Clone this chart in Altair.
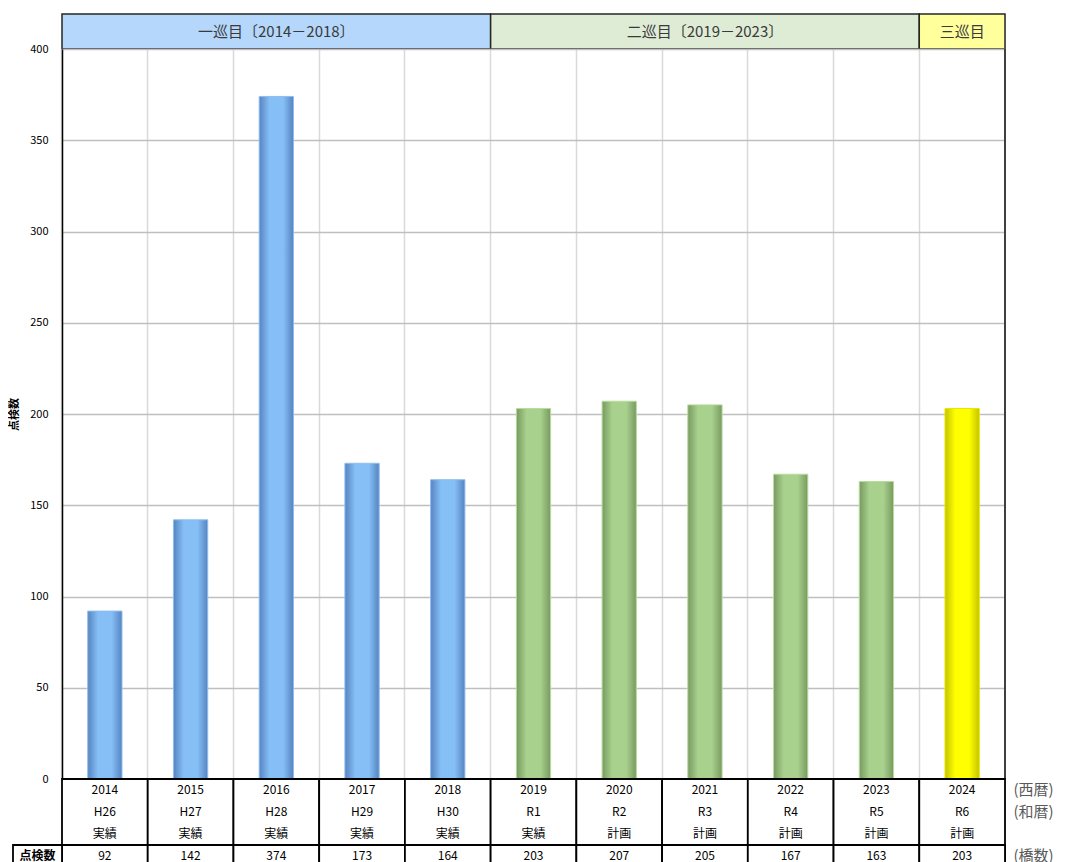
import altair as alt
import pandas as pd

# ---------------- data ----------------
years = ["2014", "2015", "2016", "2017", "2018", "2019", "2020", "2021", "2022", "2023", "2024"]
wareki = ["H26", "H27", "H28", "H29", "H30", "R1", "R2", "R3", "R4", "R5", "R6"]
status = ["実績", "実績", "実績", "実績", "実績", "実績", "計画", "計画", "計画", "計画", "計画"]
counts = [92, 142, 374, 173, 164, 203, 207, 205, 167, 163, 203]
cycle_of_year = ["一巡目", "一巡目", "一巡目", "一巡目", "一巡目",
                 "二巡目", "二巡目", "二巡目", "二巡目", "二巡目", "三巡目"]

cycle_names = ["一巡目", "二巡目", "三巡目"]
cycle_labels = ["一巡目〔2014－2018〕", "二巡目〔2019－2023〕", "三巡目"]
cycle_fill = ["#b4d7fb", "#deecd6", "#ffff9c"]
bar_edge = ["#5584c0", "#779a60", "#c4c400"]
bar_center = ["#86bef6", "#a9d18e", "#ffff00"]
bar_stroke = ["#8fbdee", "#b7dc9c", "#e6e600"]

table_rows = ["西暦", "和暦", "区分", "点検数"]
right_labels = ["(西暦)", "(和暦)", "", "(橋数)"]
y_ticks = [0, 50, 100, 150, 200, 250, 300, 350, 400]

FONT = "Noto Sans CJK JP"
W = 943
H_HEAD = 35
H_MAIN = 730
H_TABLE = 88

# ---------------- header ----------------
starts = [cycle_of_year.index(c) for c in cycle_names]
ends = [len(cycle_of_year) - cycle_of_year[::-1].index(c) for c in cycle_names]
hdr_df = pd.DataFrame({"label": cycle_labels, "start": starts, "end": ends, "fill": cycle_fill})
hdr_df["mid"] = (hdr_df["start"] + hdr_df["end"]) / 2

hscale = alt.Scale(domain=[0, len(years)], nice=False, zero=False)
header = alt.layer(
    alt.Chart(hdr_df).mark_rect(stroke="#262626", strokeWidth=1.5).encode(
        x=alt.X("start:Q", scale=hscale, axis=None),
        x2="end:Q",
        color=alt.Color("fill:N", scale=None, legend=None),
    ),
    alt.Chart(hdr_df).mark_text(fontSize=15, color="#3a3a3a", font=FONT, baseline="middle").encode(
        x=alt.X("mid:Q", scale=hscale, axis=None),
        text="label:N",
    ),
).properties(width=W, height=H_HEAD)

# ---------------- main bars ----------------
bars_df = pd.DataFrame({"year": years, "count": counts, "cycle": cycle_of_year})
xband = alt.Scale(domain=years, paddingInner=0, paddingOuter=0)


def grad(edge, center):
    return alt.LinearGradient(
        gradient="linear", x1=0, x2=1, y1=0, y2=0,
        stops=[
            alt.GradientStop(offset=0, color=edge),
            alt.GradientStop(offset=0.3, color=center),
            alt.GradientStop(offset=0.7, color=center),
            alt.GradientStop(offset=1, color=edge),
        ],
    )


x_main = alt.X("year:N", sort=years, scale=xband, title=None,
               axis=alt.Axis(labels=False, ticks=False, domain=False, grid=True,
                             gridColor="#d9d9d9", gridWidth=1.5, bandPosition=0))
y_main = alt.Y("count:Q", scale=alt.Scale(domain=[0, 400], nice=False),
               axis=alt.Axis(title="点検数", titleFontWeight="bold", titleFontSize=11,
                             titleFont=FONT, titlePadding=10, labelFont=FONT,
                             labelFontSize=11, labelColor="#000", ticks=False,
                             labelPadding=14, values=y_ticks, domainColor="#000",
                             domainWidth=1.5, gridColor="#bfbfbf", gridWidth=1.5))

bar_layers = []
for name, e, c, s in zip(cycle_names, bar_edge, bar_center, bar_stroke):
    bar_layers.append(
        alt.Chart(bars_df).transform_filter(alt.datum.cycle == name)
        .mark_bar(color=grad(e, c), stroke=s, strokeWidth=1,
                  width=alt.RelativeBandSize(0.4))
        .encode(x=x_main, y=y_main)
    )
# right border of the plot area
right_border = alt.Chart(bars_df).mark_rule(color="#404040", strokeWidth=2).encode(
    x=alt.value(W), y=alt.value(0), y2=alt.value(H_MAIN))
main = alt.layer(*bar_layers, right_border).properties(width=W, height=H_MAIN)

# ---------------- table ----------------
recs = []
for i, yv in enumerate(years):
    for r, v in zip(table_rows, [yv, wareki[i], status[i], str(counts[i])]):
        recs.append({"year": yv, "row": r, "text": v})
tbl_df = pd.DataFrame(recs)
row_df = pd.DataFrame({"row": table_rows, "right": right_labels})
box_df = row_df[row_df["row"] == "点検数"]
cnt_df = tbl_df[tbl_df["row"] == "点検数"]
col_df = pd.DataFrame({"year": years})

yrow = alt.Scale(domain=table_rows, paddingInner=0, paddingOuter=0)
right_expr = "''"
for r, lab in zip(table_rows[::-1], right_labels[::-1]):
    right_expr = f"datum.value == '{r}' ? '{lab}' : ({right_expr})"

x_tbl = alt.X("year:N", sort=years, scale=xband, axis=None)
y_tbl = alt.Y("row:N", sort=table_rows, scale=yrow, title=None,
              axis=alt.Axis(orient="right", labelExpr=right_expr, ticks=False, domain=False,
                            grid=False, labelFont=FONT, labelFontSize=15, labelColor="#595959",
                            labelPadding=8, labelAlign="left"))

tbl_cols = alt.Chart(col_df).mark_rect(fill="#ffffff", stroke="#000", strokeWidth=1.8).encode(
    x=x_tbl)
tbl_cnt = alt.Chart(cnt_df).mark_rect(fill="#ffffff", stroke="#000", strokeWidth=1.8).encode(
    x=x_tbl, y=y_tbl)
tbl_text = alt.Chart(tbl_df).mark_text(fontSize=12, color="#000", font=FONT).encode(
    x=x_tbl, y=y_tbl, text="text:N")
tbl_box = alt.Chart(box_df).mark_rect(fill="#ffffff", stroke="#000", strokeWidth=1.8).encode(
    x=alt.value(-49), x2=alt.value(0), y=y_tbl)
tbl_lab = alt.Chart(box_df).mark_text(fontSize=12, fontWeight="bold", color="#000", font=FONT).encode(
    x=alt.value(-24.5), y=y_tbl, text="row:N")
table = alt.layer(tbl_cols, tbl_cnt, tbl_box, tbl_text, tbl_lab).properties(
    width=W, height=H_TABLE)

chart = alt.VConcatChart(vconcat=[header, main, table], spacing=0, bounds="flush").properties(
    padding={"left": 0, "top": 4, "right": 0, "bottom": 0}
).configure_view(stroke="#262626", strokeWidth=1.5).configure(font=FONT)

chart.save("out.html", embed_options={"renderer": "svg", "actions": False})
